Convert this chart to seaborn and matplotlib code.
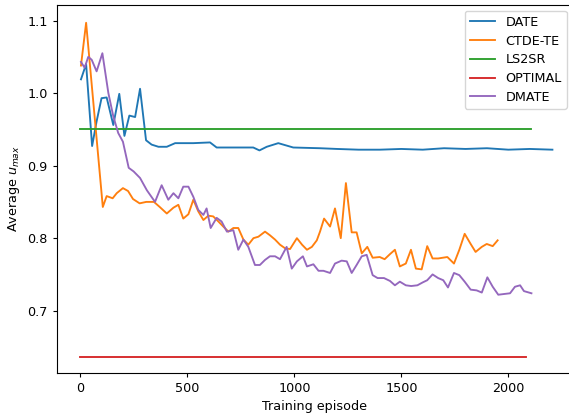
import matplotlib
matplotlib.use("Agg")
import matplotlib.pyplot as plt
import seaborn as sns
import pandas as pd

# ---- data ----
date_ep = [3, 27, 55, 76, 99, 123, 154, 182, 206, 229, 256, 279, 307, 333, 365, 404, 443,
           528, 606, 637, 700, 808, 837, 871, 925, 995, 1120, 1200, 1300, 1400, 1500, 1600,
           1700, 1800, 1900, 2000, 2100, 2206]
date_val = [1.019, 1.040, 0.927, 0.961, 0.993, 0.994, 0.956, 0.999, 0.941, 0.969, 0.967,
            1.006, 0.935, 0.929, 0.926, 0.926, 0.931, 0.931, 0.932, 0.925, 0.925, 0.925,
            0.921, 0.926, 0.931, 0.925, 0.924, 0.923, 0.922, 0.922, 0.923, 0.922, 0.924,
            0.923, 0.924, 0.922, 0.923, 0.922]

ctde_ep = [3, 27, 105, 123, 151, 170, 199, 223, 246, 277, 308, 344, 371, 404, 435, 458, 481,
           505, 528, 551, 575, 598, 621, 645, 668, 692, 715, 738, 762, 785, 809, 832, 863,
           886, 910, 933, 957, 980, 1012, 1036, 1059, 1082, 1105, 1120, 1139, 1167, 1190,
           1217, 1241, 1268, 1291, 1315, 1341, 1366, 1399, 1422, 1447, 1470, 1493, 1521,
           1545, 1568, 1595, 1621, 1646, 1672, 1715, 1746, 1771, 1796, 1824, 1847, 1876,
           1899, 1927, 1950]
ctde_val = [1.038, 1.097, 0.843, 0.858, 0.855, 0.862, 0.869, 0.865, 0.854, 0.848, 0.850,
            0.850, 0.843, 0.834, 0.842, 0.846, 0.827, 0.833, 0.853, 0.837, 0.825, 0.831,
            0.830, 0.823, 0.816, 0.809, 0.814, 0.814, 0.798, 0.791, 0.800, 0.802, 0.809,
            0.804, 0.798, 0.791, 0.786, 0.785, 0.800, 0.791, 0.784, 0.788, 0.797, 0.809,
            0.827, 0.816, 0.841, 0.800, 0.876, 0.808, 0.808, 0.779, 0.788, 0.773, 0.774,
            0.771, 0.778, 0.784, 0.761, 0.765, 0.784, 0.758, 0.757, 0.789, 0.772, 0.772,
            0.774, 0.765, 0.784, 0.806, 0.792, 0.781, 0.788, 0.792, 0.789, 0.797]

ls2sr_ep = [0, 2105]
ls2sr_val = [0.950, 0.950]

optimal_ep = [0, 2082]
optimal_val = [0.636, 0.636]

dmate_ep = [3, 20, 37, 53, 76, 103, 131, 154, 177, 199, 226, 249, 279, 311, 349, 380, 411,
            435, 458, 481, 505, 528, 551, 575, 590, 609, 637, 660, 685, 715, 738, 762, 785,
            816, 839, 863, 886, 910, 933, 964, 988, 1012, 1040, 1059, 1089, 1113, 1136,
            1167, 1190, 1221, 1245, 1268, 1291, 1315, 1338, 1366, 1389, 1419, 1447, 1470,
            1493, 1521, 1546, 1575, 1600, 1621, 1646, 1672, 1696, 1718, 1746, 1771, 1796,
            1824, 1852, 1876, 1902, 1927, 1953, 1980, 2008, 2031, 2055, 2073, 2108]
dmate_val = [1.043, 1.035, 1.050, 1.046, 1.030, 1.055, 1.000, 0.968, 0.945, 0.933, 0.897,
             0.892, 0.883, 0.866, 0.850, 0.873, 0.853, 0.862, 0.855, 0.871, 0.871, 0.857,
             0.839, 0.832, 0.841, 0.814, 0.828, 0.823, 0.809, 0.811, 0.784, 0.798, 0.788,
             0.763, 0.763, 0.770, 0.775, 0.775, 0.771, 0.788, 0.758, 0.768, 0.775, 0.761,
             0.764, 0.755, 0.755, 0.752, 0.765, 0.769, 0.768, 0.752, 0.763, 0.775, 0.777,
             0.749, 0.745, 0.745, 0.741, 0.735, 0.740, 0.735, 0.734, 0.735, 0.739, 0.742,
             0.750, 0.745, 0.742, 0.732, 0.752, 0.749, 0.740, 0.729, 0.728, 0.725, 0.746,
             0.733, 0.722, 0.723, 0.724, 0.733, 0.735, 0.727, 0.724]

series = [
    ("DATE", date_ep, date_val, "tab:blue"),
    ("CTDE-TE", ctde_ep, ctde_val, "tab:orange"),
    ("LS2SR", ls2sr_ep, ls2sr_val, "tab:green"),
    ("OPTIMAL", optimal_ep, optimal_val, "tab:red"),
    ("DMATE", dmate_ep, dmate_val, "tab:purple"),
]

FS = 9.2
plt.rcParams.update({
    "font.family": ["DejaVu Sans"],
    "font.size": FS,
    "xtick.major.size": 3.1,
    "ytick.major.size": 3.1,
    "axes.linewidth": 0.8,
})

fig = plt.figure(figsize=(5.69, 4.16), dpi=100)
ax = fig.add_axes([0.1002, 0.1041, 0.906, 0.8839])

for name, ep, val, col in series:
    df = pd.DataFrame({"ep": ep, "val": val})
    sns.lineplot(data=df, x="ep", y="val", ax=ax, color=col, label=name,
                 linewidth=1.35, estimator=None, sort=False)

ax.set_xlim(-109, 2300)
ax.set_ylim(0.6145, 1.1215)
ax.set_xticks([0, 500, 1000, 1500, 2000])
ax.set_yticks([0.7, 0.8, 0.9, 1.0, 1.1])
ax.tick_params(labelsize=FS)
ax.set_xlabel("Training episode", fontsize=FS)
ax.set_ylabel("Average $u_{max}$", fontsize=FS)
ax.legend(loc="upper right", fontsize=FS, borderaxespad=0.45, labelspacing=0.45)

fig.savefig("out.png", dpi=100)
